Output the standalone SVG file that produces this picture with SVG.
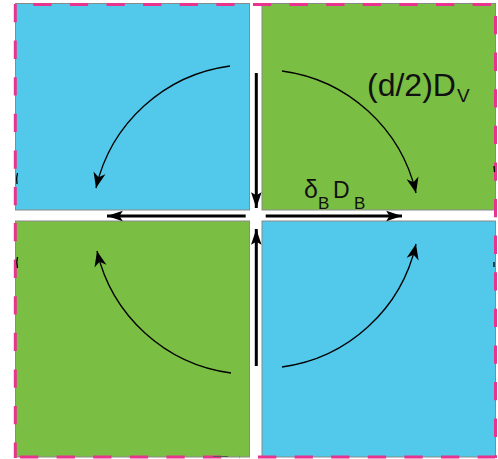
<svg xmlns="http://www.w3.org/2000/svg" width="498" height="459" viewBox="0 0 498 459">
<style>
.blue{fill:#52C8EA;stroke:#8a8a8a;stroke-width:1}
.green{fill:#7ABE43;stroke:#8a8a8a;stroke-width:1}
.dash{stroke:#E8348E;stroke-width:3;fill:none;stroke-dasharray:18.3 18.3}
.thin{stroke:#000;stroke-width:1.3;fill:none;marker-end:url(#thinHead)}
.thick{stroke:#000;stroke-width:3;fill:none;marker-end:url(#thickHead)}
.lbl{font-family:"Liberation Sans",Arial,sans-serif;fill:#111}
.art{stroke:#000;stroke-width:1.3;fill:none}
</style>
<defs>
<marker id="thinHead" markerUnits="userSpaceOnUse" markerWidth="20" markerHeight="20" refX="0" refY="0" viewBox="-16 -8 18 16" orient="auto">
<path d="M0,0 L-14,-5.5 L-10,0 L-14,5.5 Z" fill="#000"/>
</marker>
<marker id="thickHead" markerUnits="userSpaceOnUse" markerWidth="20" markerHeight="20" refX="0" refY="0" viewBox="-17 -8 19 16" orient="auto">
<path d="M0,0 L-15,-5 L-12,0 L-15,5 Z" fill="#000"/>
</marker>
</defs>
<rect width="498" height="459" fill="#fff"/>
<g id="tile-top-left"><rect class="blue" x="15.5" y="3.5" width="234" height="206.5"/></g>
<g id="tile-top-right"><rect class="green" x="262" y="3.5" width="233.5" height="206.5"/></g>
<g id="tile-bottom-left"><rect class="green" x="15.5" y="221" width="234" height="236"/></g>
<g id="tile-bottom-right"><rect class="blue" x="262" y="221" width="233.5" height="236"/></g>
<g id="border">
<line class="dash" x1="15" y1="4.5" x2="249" y2="4.5" stroke-dashoffset="18.3"/>
<line class="dash" x1="253" y1="4.5" x2="495" y2="4.5"/>
<line class="dash" x1="15.3" y1="4" x2="15.3" y2="206"/>
<line class="dash" x1="15.3" y1="223" x2="15.3" y2="458"/>
<line class="dash" x1="495.5" y1="0" x2="495.5" y2="458" stroke-dashoffset="-16"/>
<line class="dash" x1="15" y1="457" x2="240" y2="457" stroke-dashoffset="-5"/>
<line class="dash" x1="258" y1="457" x2="495" y2="457"/>
</g>
<g id="connectors">
<path class="thin" d="M230,66 A159,159 0 0 0 96,188"/>
<path class="thin" d="M282,71 A159,159 0 0 1 416,193"/>
<path class="thin" d="M231,373 A159,159 0 0 1 97,251"/>
<path class="thin" d="M282,367 A159,159 0 0 0 416,244"/>
<line class="thick" x1="256.3" y1="73" x2="256.3" y2="208"/>
<line class="thick" x1="256.3" y1="366" x2="256.3" y2="229"/>
<line class="thick" x1="245.7" y1="216" x2="107" y2="216"/>
<line class="thick" x1="265.7" y1="216" x2="402" y2="216"/>
<path class="art" d="M17.5,173 Q16,178 17,184"/>
<path class="art" d="M17.5,257 Q16,262 17.5,268"/>
<path class="art" d="M494,166 L494.5,172"/>
<path class="art" d="M494,262 L494,267"/>
<path d="M213,456.5 L228,456.5" stroke="#555" stroke-width="1" fill="none"/>
</g>
<g id="labels">
<text class="lbl" x="367" y="96" font-size="32">(d/2)D</text>
<text class="lbl" x="457" y="102" font-size="19">V</text>
<text class="lbl" x="304" y="198" font-size="25">δ</text>
<text class="lbl" x="318" y="209" font-size="17">B</text>
<text class="lbl" x="333" y="198" font-size="23">D</text>
<text class="lbl" x="354" y="209" font-size="17">B</text>
</g>
</svg>
